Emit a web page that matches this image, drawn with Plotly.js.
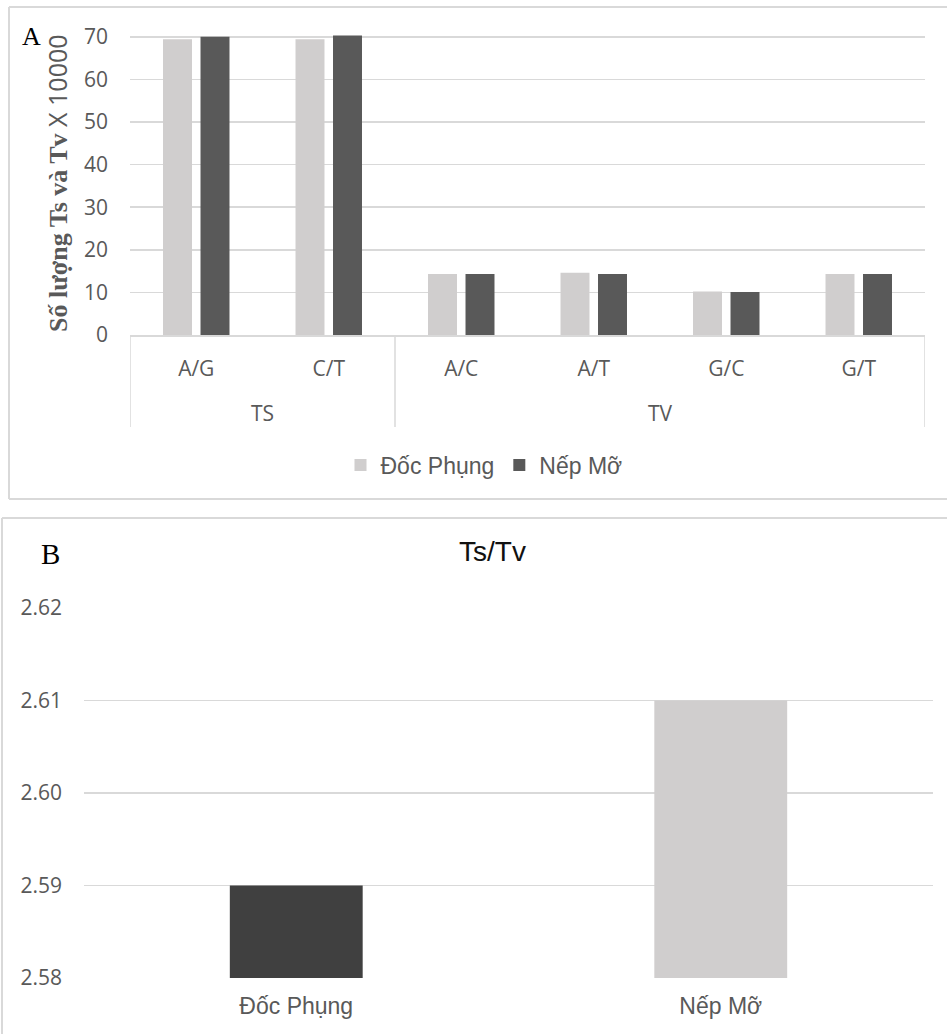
<!DOCTYPE html>
<html>
<head>
<meta charset="utf-8">
<script src="https://cdn.plot.ly/plotly-3.0.1.min.js"></script>
<style>html,body{margin:0;padding:0;background:#fff;}#chart{width:947px;height:1034px;}</style>
</head>
<body>
<div id="chart"></div>
<script>
// ---- Data (panel A) ----
const groupsA = ["TS", "TS", "TV", "TV", "TV", "TV"];
const subsA = ["A/G", "C/T", "A/C", "A/T", "G/C", "G/T"];
const seriesNames = ["Đốc Phụng", "Nếp Mỡ"];
const docPhungA = [69.4, 69.4, 14.3, 14.6, 10.2, 14.3];
const nepMoA = [70.0, 70.3, 14.3, 14.3, 10.1, 14.3];
const yTicksA = [0, 10, 20, 30, 40, 50, 60, 70];
// ---- Data (panel B) ----
const ratioCats = ["Đốc Phụng", "Nếp Mỡ"];
const ratioVals = [2.59, 2.61];
const yTicksB = [2.58, 2.59, 2.60, 2.61, 2.62];

const W = 947, H = 1034;
const px = x => x / W;
const py = y => (H - y) / H;

const LIGHT = "#D0CECE", DARK_A = "#595959", DARK_B = "#404040";
const GRID = "#D9D9D9", TXT = "#595959";

const traces = [
  {type: "bar", name: seriesNames[0], x: subsA, y: docPhungA, marker: {color: LIGHT}, xaxis: "x", yaxis: "y"},
  {type: "bar", name: seriesNames[1], x: subsA, y: nepMoA, marker: {color: DARK_A}, xaxis: "x", yaxis: "y"},
  {type: "bar", x: ratioCats, y: ratioVals, marker: {color: [DARK_B, LIGHT]}, width: 0.313, xaxis: "x2", yaxis: "y2", showlegend: false}
];

// group labels and dividers derived from groupsA
const annotations = [];
const shapes = [];
let start = 0;
for (let i = 1; i <= groupsA.length; i++) {
  if (i === groupsA.length || groupsA[i] !== groupsA[start]) {
    annotations.push({xref: "x", yref: "paper", x: (start + i - 1) / 2, y: py(413), text: groupsA[start],
      showarrow: false, xanchor: "center", yanchor: "middle", font: {family: "Open Sans", size: 21, color: TXT}});
    start = i;
  }
}
const bounds = [-0.5];
groupsA.forEach((g, i) => { if (i > 0 && g !== groupsA[i - 1]) bounds.push(i - 0.5); });
bounds.push(groupsA.length - 0.5);
bounds.forEach(b => shapes.push({type: "line", xref: "x", yref: "paper", x0: b, x1: b, y0: py(335), y1: py(427), line: {color: GRID, width: 1.5}}));

// panel borders
shapes.push({type: "line", xref: "paper", yref: "paper", x0: px(9), x1: px(9), y0: py(7), y1: py(499), line: {color: GRID, width: 2}});
shapes.push({type: "line", xref: "paper", yref: "paper", x0: px(9), x1: 1, y0: py(7), y1: py(7), line: {color: GRID, width: 2}});
shapes.push({type: "line", xref: "paper", yref: "paper", x0: px(9), x1: 1, y0: py(499), y1: py(499), line: {color: GRID, width: 2}});
shapes.push({type: "line", xref: "paper", yref: "paper", x0: px(2), x1: px(2), y0: py(518), y1: 0, line: {color: GRID, width: 2}});
shapes.push({type: "line", xref: "paper", yref: "paper", x0: px(2), x1: 1, y0: py(518), y1: py(518), line: {color: GRID, width: 2}});

annotations.push({xref: "paper", yref: "paper", x: px(32), y: py(37), text: "A", showarrow: false, xanchor: "center", yanchor: "middle",
  font: {family: "Liberation Serif", size: 26, color: "#000"}});
annotations.push({xref: "paper", yref: "paper", x: px(50), y: py(554), text: "B", showarrow: false, xanchor: "center", yanchor: "middle",
  font: {family: "Liberation Serif", size: 29, color: "#000"}});
annotations.push({xref: "paper", yref: "paper", x: px(493), y: py(552), text: "Ts/Tv", showarrow: false, xanchor: "center", yanchor: "middle",
  font: {family: "Liberation Sans", size: 28, color: "#111"}});
// y-axis title of panel A
annotations.push({xref: "paper", yref: "paper", x: px(57), y: py(183), textangle: -90, showarrow: false,
  xanchor: "center", yanchor: "middle",
  text: '<span style="font-family:Liberation Serif;font-weight:bold;font-size:26px">Số lượng Ts và Tv</span><span style="font-family:Open Sans;font-size:25px"> X 10000</span>',
  font: {family: "Liberation Serif", size: 26, color: TXT}});

const layout = {
  width: W, height: H,
  margin: {l: 0, r: 0, t: 0, b: 0},
  paper_bgcolor: "#fff", plot_bgcolor: "#fff",
  barmode: "group", bargap: 0.434, bargroupgap: 0.227,
  showlegend: true,
  legend: {orientation: "h", x: px(484), xanchor: "center", y: py(465), yanchor: "middle",
    font: {family: "Liberation Sans", size: 23, color: TXT}, bgcolor: "rgba(0,0,0,0)"},
  xaxis: {domain: [px(130), px(925)], anchor: "y", type: "category", range: [-0.5, 5.5],
    showgrid: false, showline: true, linecolor: GRID, linewidth: 1.5, ticks: "",
    tickfont: {family: "Open Sans", size: 21, color: TXT}, ticklabelstandoff: 14, fixedrange: true},
  yaxis: {domain: [py(335), py(32.5)], anchor: "x", range: [0, 71], tickvals: yTicksA,
    showgrid: true, gridcolor: GRID, gridwidth: 1.5, zeroline: false, showline: false, ticks: "",
    tickfont: {family: "Open Sans", size: 21, color: TXT}, ticklabelstandoff: 21, fixedrange: true,
    automargin: false},
  xaxis2: {domain: [px(84), px(933)], anchor: "y2", type: "category", range: [-0.5, 1.5],
    showgrid: false, showline: false, ticks: "",
    tickfont: {family: "Liberation Sans", size: 23, color: TXT}, ticklabelstandoff: 12, fixedrange: true},
  yaxis2: {domain: [py(978), py(608)], anchor: "x2", range: [2.58, 2.62], tickvals: yTicksB, tickformat: ".2f",
    showgrid: true, gridcolor: GRID, gridwidth: 1.5, zeroline: false, showline: false, ticks: "",
    tickfont: {family: "Open Sans", size: 21, color: TXT}, ticklabelstandoff: 21, fixedrange: true, automargin: false},
  annotations: annotations,
  shapes: shapes
};

Plotly.newPlot("chart", traces, layout, {displayModeBar: false, staticPlot: true});
</script>
</body>
</html>
